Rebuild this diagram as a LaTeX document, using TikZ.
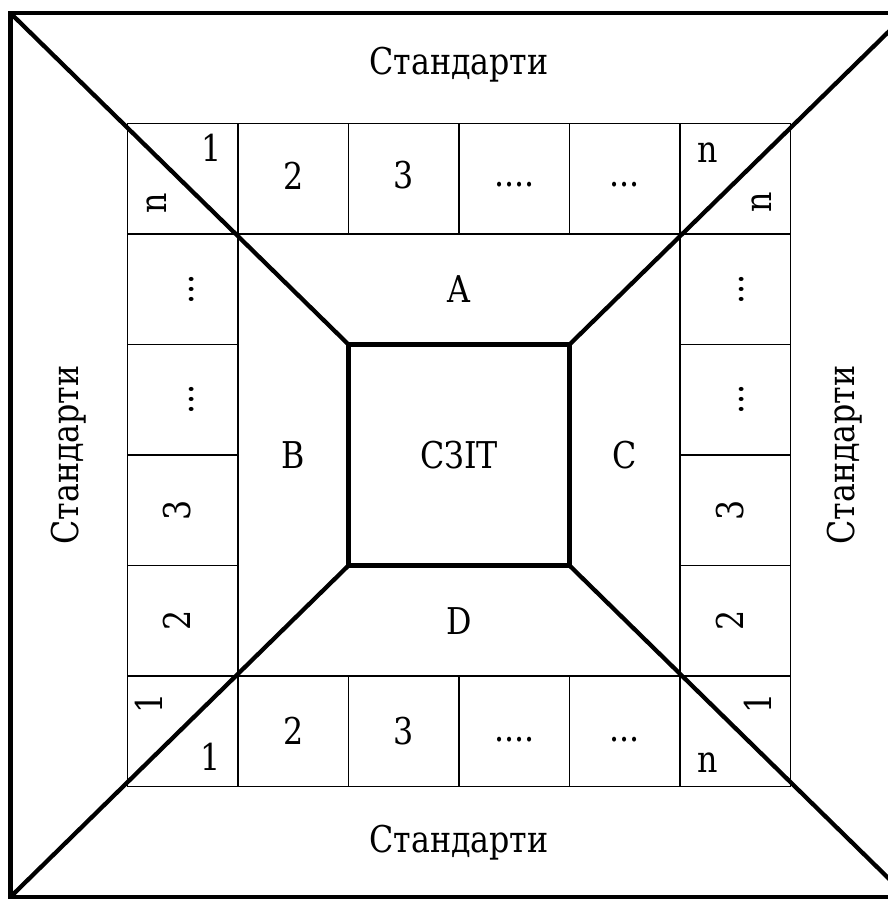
\documentclass[tikz,border=0pt]{standalone}
\usepackage{fontspec}
\newfontfamily\cellfont[FakeStretch=0.86]{DejaVu Serif}
\usetikzlibrary{positioning}

\begin{document}
\begin{tikzpicture}[x=2cm, y=2cm, every node/.style={font=\cellfont\fontsize{19}{22}\selectfont, inner sep=0pt}, thinline/.style={line width=0.9pt}, thickline/.style={line width=2.2pt}, upnode/.style={rotate=90}]
        \useasboundingbox (-4.154,-4.027) rectangle (3.882,4.118);
        % cells round the middle
        \draw[thinline] (-3,-3) rectangle (3,3);
        \draw[thinline] (-3,2) -- (3,2) (-3,-2) -- (3,-2) (-2,-3) -- (-2,3) (2,-3) -- (2,3);
        \draw[thinline] (-1,2) -- (-1,3) (0,2) -- (0,3) (1,2) -- (1,3);
        \draw[thinline] (-1,-3) -- (-1,-2) (0,-3) -- (0,-2) (1,-3) -- (1,-2);
        \draw[thinline] (-3,-1) -- (-2,-1) (-3,0) -- (-2,0) (-3,1) -- (-2,1);
        \draw[thinline] (2,-1) -- (3,-1) (2,0) -- (3,0) (2,1) -- (3,1);
        % frame and centre
        \coordinate (ftl) at (-4.06,4);
        \coordinate (ftr) at (4.06,4);
        \coordinate (fbl) at (-4.06,-4);
        \coordinate (fbr) at (4.06,-4);
        \draw[thickline] (fbl) rectangle (ftr);
        \node[draw,thickline,outer sep=0pt,minimum size=4cm] (szit) at (0,0) {СЗІТ};
        \draw[thickline] (ftl) -- (szit.north west);
        \draw[thickline] (ftr) -- (szit.north east);
        \draw[thickline] (fbl) -- (szit.south west);
        \draw[thickline] (fbr) -- (szit.south east);
        \node (stdtop) at (0,3.53) {Стандарти};
        \node (stdbot) at (0,-3.51) {Стандарти};
        \node[upnode] (stdleft) at (-3.53,0) {Стандарти};
        \node[upnode] (stdright) at (3.49,0) {Стандарти};
        \node (a) at (0,1.5) {A};
        \node (b) at (-1.5,0) {B};
        \node (c) at (1.5,0) {C};
        \node (d) at (0,-1.5) {D};
        % top and bottom rows
        \node (top2) at (-1.5,2.53) {2};
        \node (top3) at (-0.5,2.53) {3};
        \node (top4) at (0.5,2.45) {....};
        \node (top5) at (1.5,2.45) {...};
        \node (bot2) at (-1.5,-2.5) {2};
        \node (bot3) at (-0.5,-2.5) {3};
        \node (bot4) at (0.5,-2.58) {....};
        \node (bot5) at (1.5,-2.58) {...};
        % side columns
        \node[upnode] (left2) at (-2.55,-1.5) {2};
        \node[upnode] (left3) at (-2.55,-0.5) {3};
        \node[upnode] (left4) at (-2.42,0.5) {...};
        \node[upnode] (left5) at (-2.42,1.5) {...};
        \node[upnode] (right2) at (2.45,-1.5) {2};
        \node[upnode] (right3) at (2.45,-0.5) {3};
        \node[upnode] (right4) at (2.56,0.5) {...};
        \node[upnode] (right5) at (2.56,1.5) {...};
        % corner cells
        \node (toponeA) at (-2.24,2.78) {1};
        \node[upnode] (leftn) at (-2.74,2.28) {n};
        \node (topn) at (2.25,2.74) {n};
        \node[upnode] (rightn) at (2.74,2.29) {n};
        \node[upnode] (leftone) at (-2.81,-2.25) {1};
        \node (botone) at (-2.25,-2.73) {1};
        \node[upnode] (rightone) at (2.70,-2.25) {1};
        \node (botn) at (2.25,-2.78) {n};
      \end{tikzpicture}
\end{document}
